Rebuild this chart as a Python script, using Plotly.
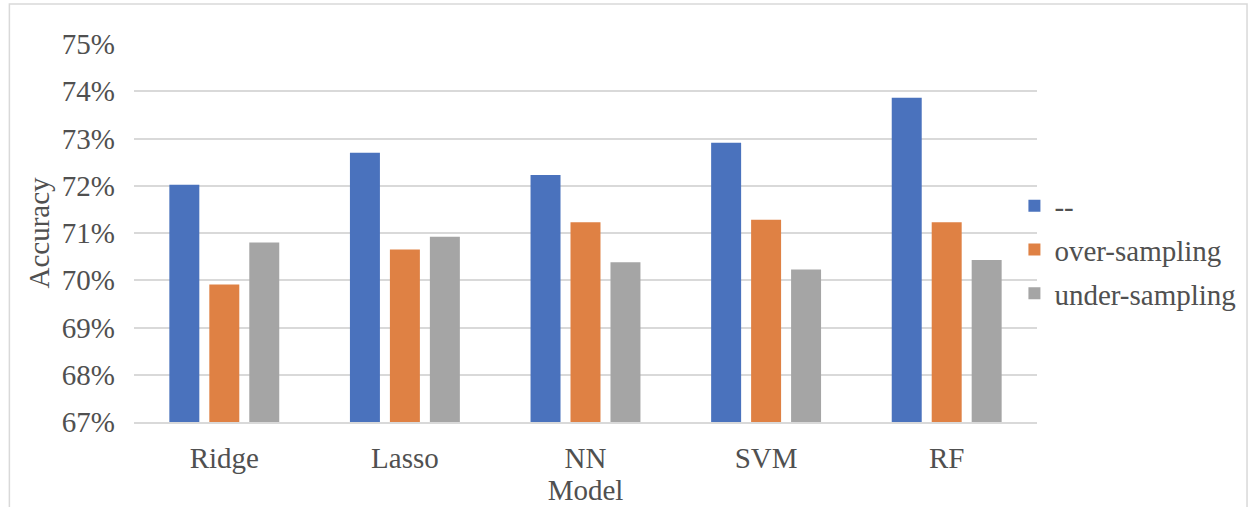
import plotly.graph_objects as go

# Accuracy of each model under three resampling settings
models = ["Ridge", "Lasso", "NN", "SVM", "RF"]
baseline = [72.02, 72.70, 72.23, 72.91, 73.86]
over_sampling = [69.91, 70.65, 71.23, 71.28, 71.23]
under_sampling = [70.80, 70.92, 70.38, 70.23, 70.43]
series_names = ["--", "over-sampling", "under-sampling"]
y_ticks = [67, 68, 69, 70, 71, 72, 73, 74, 75]
y_tick_labels = [f"{v}%" for v in y_ticks]

colors = ["#4A72BD", "#DF8144", "#A5A5A5"]
font_family = "Liberation Serif, Times New Roman, serif"
text_color = "#505050"
grid_color = "#D9D9D9"
font_size = 29

fig = go.Figure()
for i, (name, vals) in enumerate(zip(series_names, [baseline, over_sampling, under_sampling])):
    fig.add_trace(go.Bar(
        x=models, y=vals, name=name,
        marker=dict(color=colors[i], line=dict(width=0)),
        legendgroup=name,
    ))

fig.update_layout(
    width=1249, height=507,
    margin=dict(l=134, r=212, t=44, b=85, autoexpand=False),
    paper_bgcolor="white", plot_bgcolor="white",
    barmode="group", bargap=0.336, bargroupgap=0.25,
    font=dict(family=font_family, size=font_size, color=text_color),
    legend=dict(
        x=0.975, xanchor="left", y=0.455, yanchor="middle",
        font=dict(size=font_size, color=text_color),
        traceorder="grouped", tracegroupgap=3,
        itemwidth=30, bgcolor="rgba(0,0,0,0)",
    ),
    showlegend=True,
)

fig.update_yaxes(
    range=[67, 75], tickvals=y_ticks, ticktext=y_tick_labels,
    showgrid=True, gridcolor=grid_color, gridwidth=1.5,
    zeroline=False, showline=False, ticks="",
    ticklabelstandoff=18,
    title=dict(text="Accuracy", standoff=3, font=dict(size=font_size, color=text_color)),
)
fig.update_xaxes(
    showgrid=False, showline=True, linecolor=grid_color, linewidth=1.5,
    ticks="", ticklabelstandoff=9,
    title=dict(text="Model", standoff=2, font=dict(size=font_size, color=text_color)),
)

# Light frame around the whole chart area
fig.add_shape(
    type="rect", xref="paper", yref="paper",
    x0=-0.138, x1=1.2326, y0=-0.3, y1=1.1058,
    line=dict(color=grid_color, width=1.5), fillcolor="rgba(0,0,0,0)",
    layer="below",
)

fig.write_html("out.html")
